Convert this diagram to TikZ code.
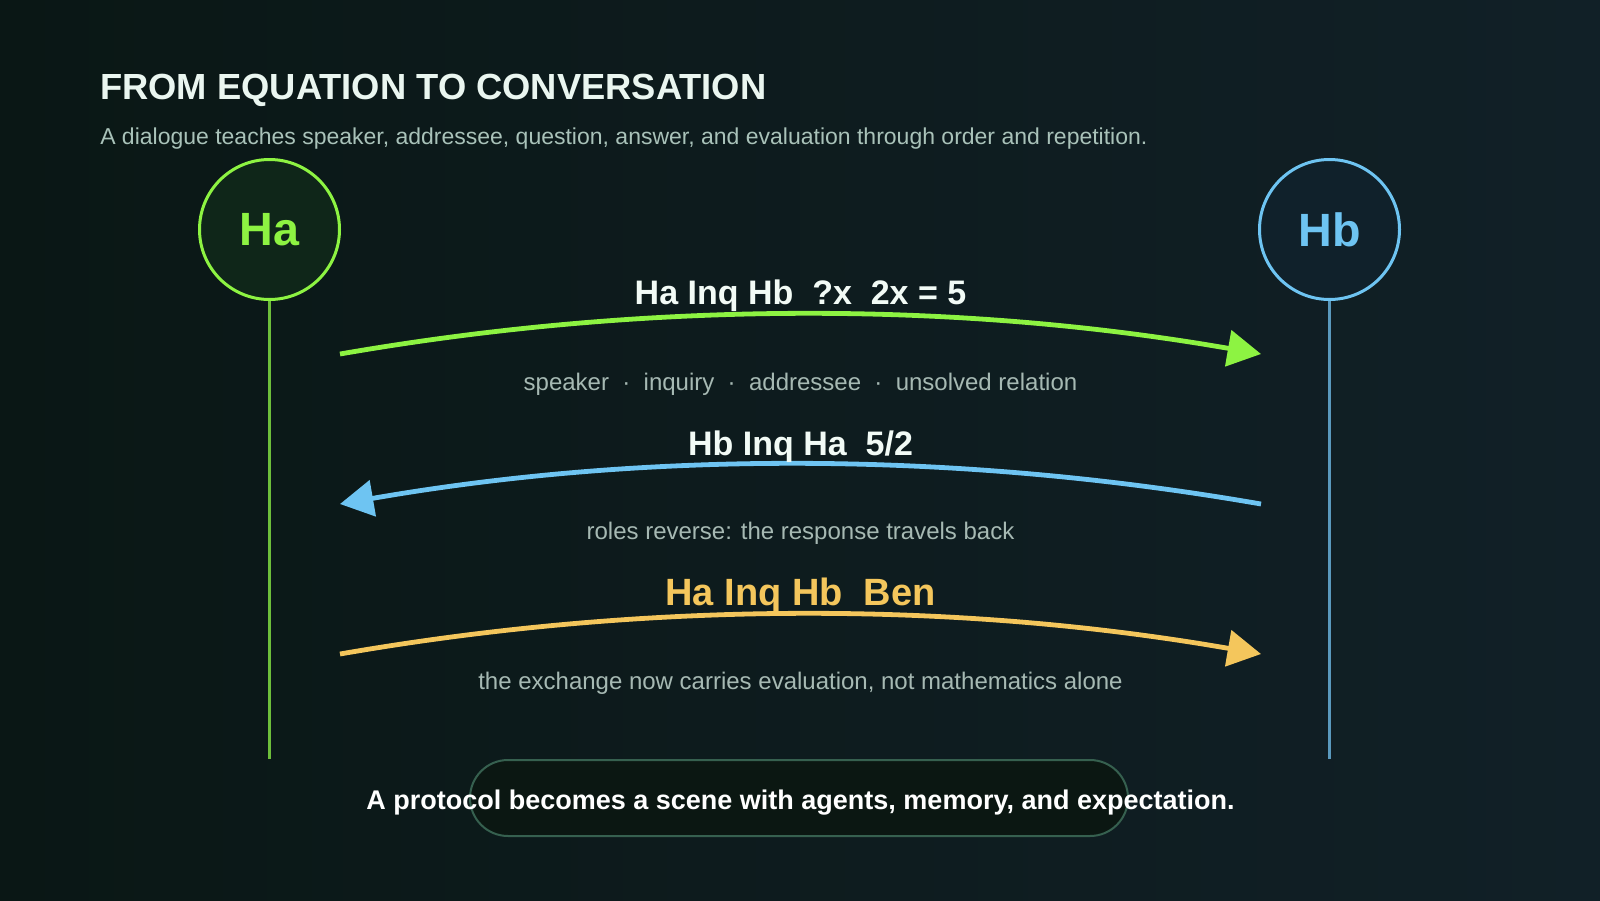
\documentclass[tikz,border=0pt]{standalone}
\usepackage{fontspec}
\setmainfont{Liberation Sans}
\usetikzlibrary{arrows.meta}
\definecolor{bgL}{HTML}{0A1715}
\definecolor{bgR}{HTML}{112027}
\definecolor{titlec}{HTML}{EAF6F0}
\definecolor{subc}{HTML}{A9C2B9}
\definecolor{noteC}{HTML}{A6B9B3}
\definecolor{lblC}{HTML}{F2FBF6}
\definecolor{grn}{HTML}{8DF342}
\definecolor{grnL}{HTML}{6DBE3B}
\definecolor{grnF}{HTML}{0F2619}
\definecolor{blu}{HTML}{6EC4F2}
\definecolor{bluL}{HTML}{5A99BD}
\definecolor{bluF}{HTML}{10212B}
\definecolor{yel}{HTML}{F4C65C}
\definecolor{pillF}{HTML}{0B1712}
\definecolor{pillD}{HTML}{36604F}
\begin{document}
\begin{tikzpicture}[x=0.75pt,y=-0.75pt,
  agent/.style={circle, line width=2.25pt, minimum size=105pt, inner sep=0pt,
    font=\fontsize{35}{40}\selectfont\bfseries},
  life/.style={line width=2.25pt},
  msg/.style={line width=3.6pt, -{Triangle[length=25pt,width=27pt]}},
  msglabel/.style={anchor=base, inner sep=0pt, font=\fontsize{25.5}{30}\selectfont\bfseries},
  note/.style={anchor=base, inner sep=0pt, text=noteC, font=\fontsize{18}{22}\selectfont},
]
\useasboundingbox (0,0) rectangle (1600,900);
\shade[left color=bgL, right color=bgR] (0,0) rectangle (1600,900);

% title
\node[anchor=base west, inner sep=0pt, text=titlec, font=\fontsize{27.25}{32}\selectfont\bfseries]
  (title) at (100,99) {FROM EQUATION TO CONVERSATION};
\node[anchor=base west, inner sep=0pt, text=subc, font=\fontsize{17.25}{21}\selectfont]
  (subtitle) at (100,144) {A dialogue teaches speaker, addressee, question, answer, and evaluation through order and repetition.};

% agents
\node[agent, draw=grn, fill=grnF, text=grn] (ha) at (269.5,229.5) {Ha};
\node[agent, draw=blu, fill=bluF, text=blu] (hb) at (1329.5,229.5) {Hb};
\coordinate (haend) at (269.5,759);
\coordinate (hbend) at (1329.5,759);
\draw[life, grnL] (ha.south) -- (haend);
\draw[life, bluL] (hb.south) -- (hbend);

% message endpoints
\coordinate (m1s) at (340,354);  \coordinate (m1e) at (1261,354);
\coordinate (m2s) at (1261,504); \coordinate (m2e) at (340,504);
\coordinate (m3s) at (340,654);  \coordinate (m3e) at (1261,654);

\draw[msg, grn] (m1s) .. controls (647,300.7) and (954,300.7) .. (m1e);
\draw[msg, blu] (m2s) .. controls (954,450.7) and (647,450.7) .. (m2e);
\draw[msg, yel] (m3s) .. controls (647,600.7) and (954,600.7) .. (m3e);

% labels
\node[msglabel, text=lblC] (l1) at (800.5,304) {Ha Inq Hb~~?x~~2x = 5};
\node[note] (n1) at (800.5,390) {speaker~~·~~inquiry~~·~~addressee~~·~~unsolved relation};
\node[msglabel, text=lblC] (l2) at (800.5,455) {Hb Inq Ha~~5/2};
\node[note] (n2) at (800.5,539) {roles reverse: the response travels back};
\node[msglabel, text=yel, font=\fontsize{28.5}{33}\selectfont\bfseries] (l3) at (800.5,605) {Ha Inq Hb~~Ben};
\node[note] (n3) at (800.5,689) {the exchange now carries evaluation, not mathematics alone};

% bottom pill
\node[draw=pillD, fill=pillF, line width=1.5pt, rounded corners=28.5pt,
  minimum width=493.5pt, minimum height=57pt, inner sep=0pt] (pill) at (799,798) {};
\node[anchor=base, inner sep=0pt, text=white, font=\fontsize{20.25}{24}\selectfont\bfseries]
  (moral) at (800.5,809) {A protocol becomes a scene with agents, memory, and expectation.};
\end{tikzpicture}
\end{document}
